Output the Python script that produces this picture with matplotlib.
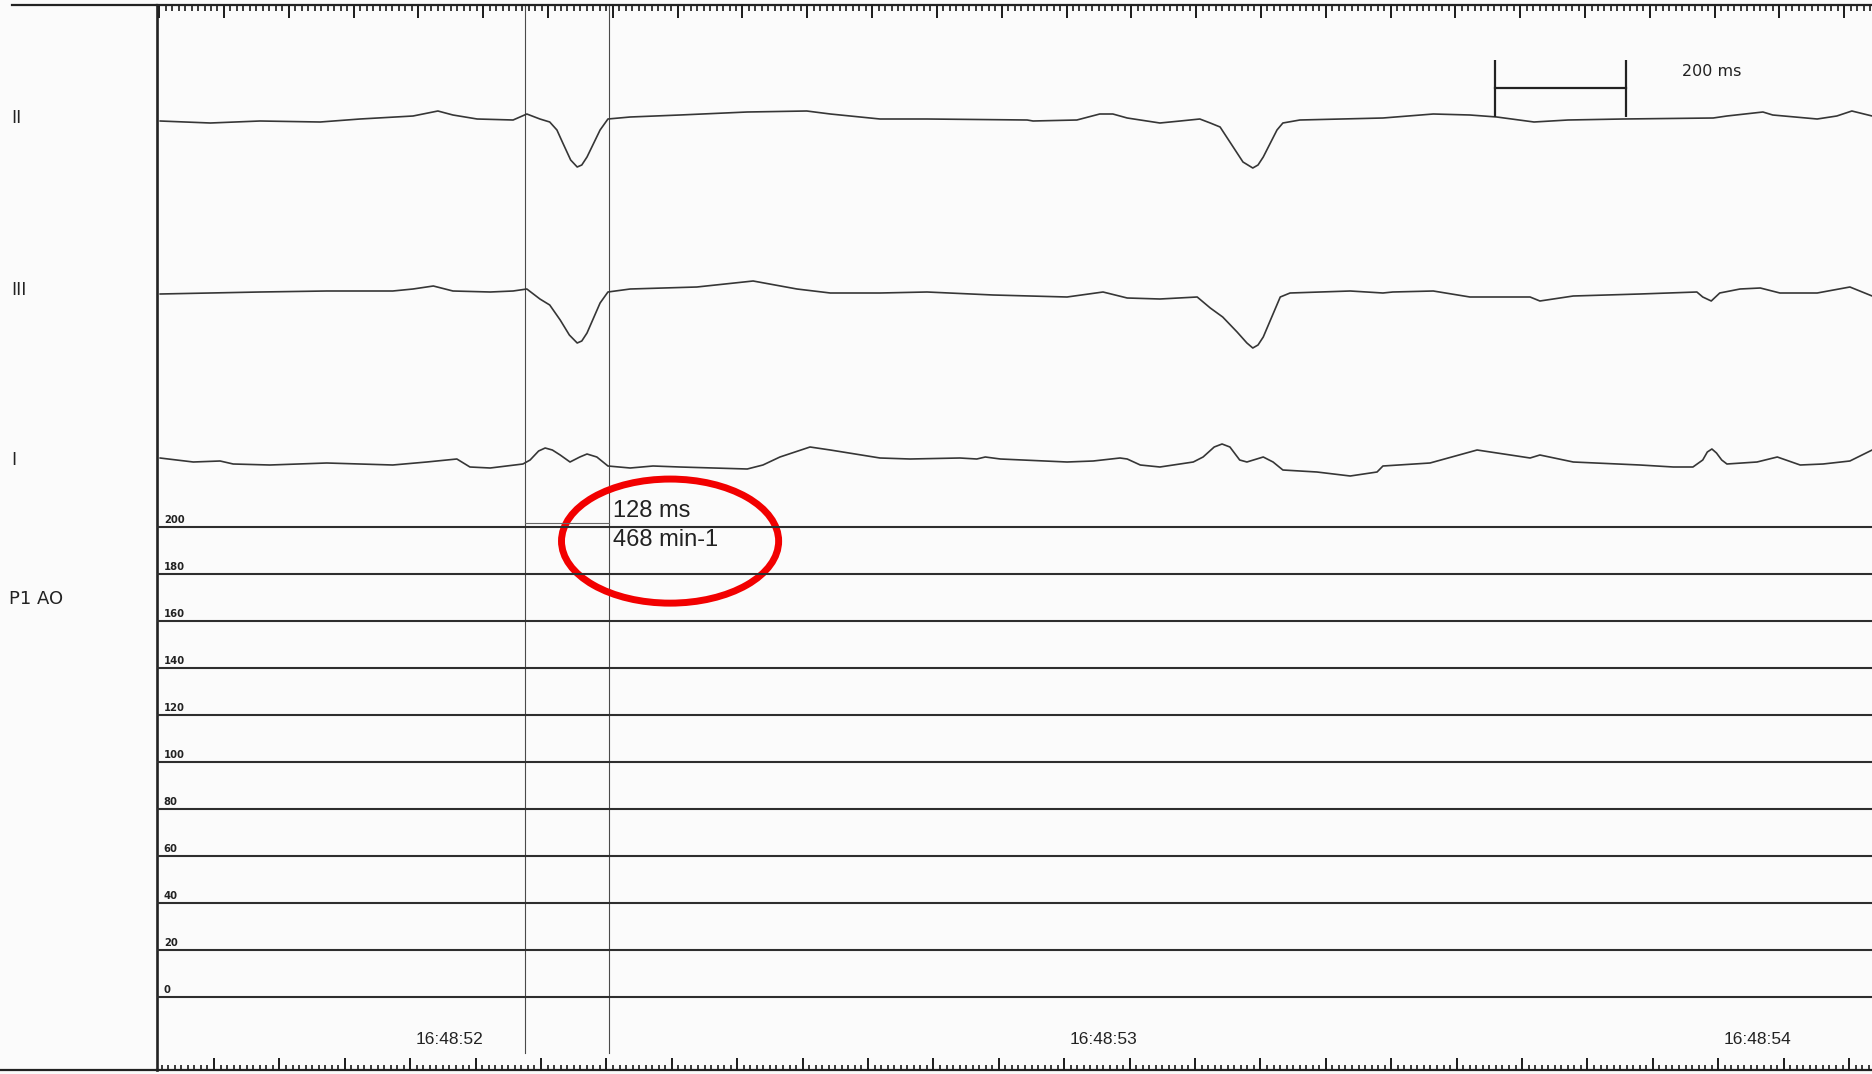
import numpy as np
import matplotlib
matplotlib.use("Agg")
import matplotlib.pyplot as plt
from matplotlib.lines import Line2D
from matplotlib.patches import Ellipse
from matplotlib.ticker import MultipleLocator
from matplotlib import transforms

# ECG leads: time in ms after 16:48:52, amplitude in mV
lead_ii_t = [-442, -365, -289, -197, -136, -55, -17, 6, 43, 98,
             119, 139, 154, 165, 174, 186, 196, 203, 211, 231, 243, 277, 353,
             456, 547, 583, 659, 731, 884, 893, 960, 995, 1015,
             1037, 1087, 1118, 1148, 1164, 1179, 1199, 1214, 1229, 1237, 1245, 1266,
             1275, 1301, 1428, 1505, 1561, 1602, 1659, 1711, 1795, 1933,
             1954, 2009, 2024, 2092, 2122, 2145, 2176]
lead_ii_mv = [-0.01, -0.03, -0.01, -0.02, 0.01, 0.04, 0.09, 0.05, 0.01, 0.00,
              0.06, 0.01, -0.02, -0.10, -0.23, -0.40, -0.47, -0.45, -0.37, -0.10, 0.01, 0.03, 0.05,
              0.08, 0.09, 0.06, 0.01, 0.01, 0.00, -0.01, 0.00, 0.06, 0.06,
              0.02, -0.03, -0.01, 0.01, -0.03, -0.07, -0.27, -0.42, -0.48, -0.45, -0.37, -0.10,
              -0.03, 0.00, 0.02, 0.06, 0.05, 0.03, -0.02, 0.00, 0.01, 0.02,
              0.04, 0.08, 0.05, 0.01, 0.04, 0.09, 0.04]

lead_iii_t = [-442, -289, -187, -86, -55, -24, 6, 63, 98, 119,
              139, 154, 170, 184, 196, 203, 211, 231, 243, 277, 379, 465,
              532, 583, 659, 731, 832, 945, 1000, 1037, 1087, 1144,
              1164, 1183, 1205, 1220, 1229, 1237, 1245, 1271, 1286, 1378, 1428, 1443,
              1505, 1561, 1653, 1668, 1719, 1821, 1908, 1917, 1930, 1943,
              1974, 2005, 2035, 2092, 2142, 2176]
lead_iii_mv = [-0.02, 0.00, 0.01, 0.01, 0.03, 0.06, 0.01, 0.00, 0.01, 0.03,
               -0.07, -0.13, -0.28, -0.43, -0.51, -0.49, -0.41, -0.11, 0.00, 0.03, 0.05, 0.11,
               0.03, -0.01, -0.01, 0.00, -0.03, -0.05, 0.00, -0.06, -0.07, -0.05,
               -0.16, -0.25, -0.40, -0.51, -0.56, -0.53, -0.45, -0.05, -0.01, 0.01, -0.01, 0.00,
               0.01, -0.05, -0.05, -0.09, -0.04, -0.02, 0.00, -0.05, -0.09, -0.01,
               0.03, 0.04, -0.01, -0.01, 0.05, -0.04]

lead_i_t = [-442, -391, -350, -330, -274, -187, -86, -34, 12, 32,
            63, 113, 124, 137, 147, 158, 170, 185, 200, 211, 226, 243, 277,
            312, 353, 456, 480, 506, 552, 583, 659, 705, 781,
            807, 820, 843, 945, 985, 1026, 1037, 1057, 1087, 1138,
            1153, 1170, 1182, 1194, 1209, 1220, 1245, 1260, 1275, 1327, 1378,
            1419, 1428, 1500, 1572, 1633, 1653, 1668, 1719, 1821, 1872,
            1902, 1917, 1924, 1931, 1938, 1946, 1954, 2000, 2031, 2066, 2101, 2142,
            2176]
lead_i_mv = [0.04, 0.00, 0.01, -0.02, -0.03, -0.01, -0.03, 0.00, 0.03, -0.05,
             -0.06, -0.02, 0.02, 0.11, 0.14, 0.12, 0.07, 0.00, 0.05, 0.08, 0.05, -0.04, -0.06,
             -0.04, -0.05, -0.07, -0.03, 0.05, 0.15, 0.12, 0.04, 0.03, 0.04,
             0.03, 0.05, 0.03, 0.00, 0.01, 0.04, 0.03, -0.03, -0.05, 0.00,
             0.05, 0.15, 0.18, 0.15, 0.02, 0.00, 0.05, 0.00, -0.08, -0.10, -0.14,
             -0.10, -0.04, -0.01, 0.12, 0.06, 0.04, 0.07, 0.00, -0.03, -0.05,
             -0.05, 0.02, 0.10, 0.13, 0.09, 0.02, -0.02, 0.00, 0.05, -0.03, -0.02, 0.01,
             0.12]

# aortic pressure channel scale (mmHg)
p_levels = [0, 20, 40, 60, 80, 100, 120, 140, 160, 180, 200]

time_labels = ["16:48:52", "16:48:53", "16:48:54"]
time_label_s = [0, 1, 2]

cursor_start_s = 0.116
cursor_interval_ms = 128
scale_bar_s = [1.6, 1.8]

# page geometry in pixels
W, H = 1872, 1074
T_LEFT, T_RIGHT = -0.4465, 2.1758
INK = "#222222"
TRACE = "#363636"


def box(x0, y0, x1, y1):
    return [x0 / W, 1 - y1 / H, (x1 - x0) / W, (y1 - y0) / H]


fig = plt.figure(figsize=(W / 100, H / 100), dpi=100, facecolor="#fbfbfb")

# outer frame with the paper rulers on top and bottom
frame = fig.add_axes(box(157, 5, 1872, 1070))
frame.patch.set_visible(False)
frame.set_xlim(T_LEFT, T_RIGHT)
frame.set_ylim(0, 1)
frame.set_yticks([])

ruler_b = frame.twiny()
ruler_b.patch.set_visible(False)
for s in ruler_b.spines.values():
    s.set_visible(False)
ruler_b.set_xlim(T_LEFT, T_RIGHT)
ruler_b.xaxis.set_ticks_position("bottom")
ruler_b.xaxis.set_major_locator(MultipleLocator(0.1, offset=0.0407))
ruler_b.xaxis.set_minor_locator(MultipleLocator(0.01, offset=0.0007))
ruler_b.tick_params(axis="x", which="both", direction="in", colors="#1a1a1a",
                    labeltop=False, labelbottom=False)
ruler_b.tick_params(axis="x", which="major", length=9, width=1.4)
ruler_b.tick_params(axis="x", which="minor", length=3.8, width=1.2)

frame.spines["right"].set_visible(False)
frame.spines["left"].set_linewidth(1.9)
frame.spines["top"].set_linewidth(1.6)
frame.spines["bottom"].set_linewidth(1.6)
for s in frame.spines.values():
    s.set_color(INK)
frame.xaxis.set_ticks_position("top")
frame.xaxis.set_major_locator(MultipleLocator(0.0991, offset=0.0523))
frame.xaxis.set_minor_locator(MultipleLocator(0.00991, offset=0.00275))
frame.tick_params(axis="x", which="both", direction="in", colors="#1a1a1a",
                  labeltop=False, labelbottom=False)
frame.tick_params(axis="x", which="major", length=9, width=1.4)
frame.tick_params(axis="x", which="minor", length=4.5, width=1.2)

# rulers continue into the label margin
fig.add_artist(Line2D([12 / W, 157 / W], [1 - 5 / H] * 2, color=INK, lw=1.6,
                      transform=fig.transFigure))
fig.add_artist(Line2D([0, 157 / W], [1 - 1070 / H] * 2, color=INK, lw=1.6,
                      transform=fig.transFigure))

# ECG leads
leads = [("II", lead_ii_t, lead_ii_mv, 120),
         ("III", lead_iii_t, lead_iii_mv, 292),
         ("I", lead_i_t, lead_i_mv, 462)]
lead_axes = {}
for name, t_ms, mv, base in leads:
    ax = fig.add_axes(box(157, base - 100, 1872, base + 100))
    ax.set_xlim(T_LEFT, T_RIGHT)
    ax.set_ylim(-1, 1)
    ax.axis("off")
    ax.plot(np.array(t_ms) / 1000.0, mv, color=TRACE, lw=1.2,
            solid_joinstyle="round", solid_capstyle="round")
    lab_tr = transforms.blended_transform_factory(fig.transFigure, ax.transData)
    ax.text(11 / W, 0.02, name, transform=lab_tr, ha="left", va="center",
            fontsize=12.5, color=INK, family=["DejaVu Sans"], clip_on=False)
    lead_axes[name] = ax

# 200 ms calibration bar above lead II
ax2 = lead_axes["II"]
ax2.plot(scale_bar_s, [0.32, 0.32], color=INK, lw=1.6)
ax2.vlines(scale_bar_s, 0.03, 0.60, color=INK, lw=1.6)
ax2.text(scale_bar_s[1] + 0.085, 0.49,
         "%d ms" % round((scale_bar_s[1] - scale_bar_s[0]) * 1000),
         ha="left", va="center", fontsize=11.5, color=INK)

# pressure channel grid
pa = fig.add_axes(box(157, 527, 1872, 997))
pa.set_xlim(T_LEFT, T_RIGHT)
pa.set_ylim(0, 200)
pa.axis("off")
pa.hlines(p_levels, 0, 1, transform=pa.get_yaxis_transform(), colors="#2e2e2e",
          lw=1.5, clip_on=False)
for v in p_levels:
    pa.annotate(str(v), (0.004, v), xycoords=pa.get_yaxis_transform(),
                xytext=(0, 3), textcoords="offset points", ha="left",
                va="baseline", fontsize=7.2, fontweight="bold", color=INK)
fig.text(9 / W, 1 - 599 / H, "P1 AO", ha="left", va="center", fontsize=13,
         color=INK)

# measurement cursors
c1 = cursor_start_s
c2 = cursor_start_s + cursor_interval_ms / 1000.0
for c in (c1, c2):
    frame.axvline(c, ymin=(1070 - 1053) / 1065, ymax=1, color="#4a4a4a", lw=0.8)
pa.plot([c1, c2], [201.7, 201.7], color="#666666", lw=0.8, clip_on=False)
pa.text(c2 + 0.007, 204.3, "%d ms" % cursor_interval_ms, ha="left",
        va="baseline", fontsize=17, color=INK, family=["Liberation Sans"],
        clip_on=False)
pa.text(c2 + 0.007, 191.9, "%d min-1" % int(60000 / cursor_interval_ms),
        ha="left", va="baseline", fontsize=17, color=INK,
        family=["Liberation Sans"], clip_on=False)
pa.add_patch(Ellipse((0.338, 194.0), width=0.332, height=52.8, fill=False,
                     ec="#f20000", lw=5, clip_on=False))

# time stamps
for t, lab in zip(time_label_s, time_labels):
    frame.text(t, (1070 - 1040) / 1065, lab, ha="center", va="center",
               fontsize=12.5, color=INK, family=["Liberation Sans"])

fig.savefig("out.png", dpi=100, facecolor=fig.get_facecolor())
